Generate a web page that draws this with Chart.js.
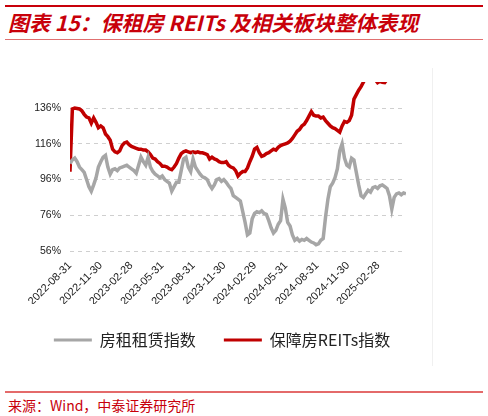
<!DOCTYPE html>
<html lang="zh">
<head>
<meta charset="UTF-8">
<title>保租房REITs及相关板块整体表现</title>
<style>
  body { margin: 0; background: #fff; width: 488px; height: 416px; position: relative; overflow: hidden; font-family: "Noto Sans CJK SC", sans-serif; }
  .top-line { position: absolute; left: 5px; width: 478px; top: 5px; height: 2px; background: #c8000a; }
  .title { position: absolute; left: 8px; top: 7px; font-size: 21px; font-weight: bold; font-style: italic; color: #c8000a; white-space: nowrap; }
  .title-line { position: absolute; left: 5px; width: 478px; top: 39px; height: 1px; background: #e07070; }
  .frame { position: absolute; left: 432px; top: 68px; width: 1px; height: 298px; background: #f0f0f0; }
  .foot-line { position: absolute; left: 5px; width: 478px; top: 391px; height: 2px; background: #e46a6a; }
  .source { position: absolute; left: 8px; top: 395px; font-size: 14px; color: #c8000a; white-space: nowrap; }
  #chart { position: absolute; left: 0; top: 0; }
</style>
</head>
<body>
<div class="top-line"></div>
<div class="title">图表 15：保租房 REITs 及相关板块整体表现</div>
<div class="title-line"></div>
<div class="frame"></div>
<canvas id="chart" width="488" height="380"></canvas>
<div class="foot-line"></div>
<div class="source">来源：Wind，中泰证券研究所</div>

<script src="https://cdn.jsdelivr.net/npm/chart.js"></script>
<script>
  // 周度数据，起点 2022-08-31
  const startDate = '2022-08-31';
  const stepDays = 7;

  // 坐标轴刻度
  const tickDates = ['2022-08-31', '2022-11-30', '2023-02-28', '2023-05-31', '2023-08-31', '2023-11-30',
    '2024-02-29', '2024-05-31', '2024-08-31', '2024-11-30', '2025-02-28'];
  const yTicks = [56, 76, 96, 116, 136];

  const seriesNames = ['房租租赁指数', '保障房REITs指数'];

  // 房租租赁指数（%）
  const rentIndex = [
    105, 107, 108, 106, 103, 101.5, 100, 96, 92, 89.5,
    93, 97, 103, 106, 108.5, 109.5, 103, 99, 101.5, 102,
    101, 102.5, 103, 103.5, 104, 103, 102, 101, 99.5, 104,
    108.5, 106, 104, 108.5, 103, 100.5, 99, 98, 97, 98,
    96, 95, 94, 89.5, 92, 94.5, 94.5, 101, 107.5, 108.5,
    103, 100.5, 107.5, 103, 101, 99, 97.5, 97, 96, 93,
    91, 93, 96, 96.5, 95, 96, 94.5, 92.5, 91, 87,
    86, 85, 84, 78, 72, 65, 66, 74, 77, 78,
    77.5, 78.5, 77, 76.5, 73, 69, 66, 67.5, 71, 73,
    85, 80, 72, 70, 65, 62, 63, 61.5, 62.5, 62,
    63, 62, 61, 60.5, 59.5, 60, 62, 63, 75, 85,
    92, 94, 97, 102, 112, 116, 108, 104, 103, 108,
    107, 100, 93, 87, 86, 88, 90, 89, 91.5, 92,
    91, 92.5, 93, 92, 91, 87, 79.5, 86, 88, 88.5,
    87.5, 88.5, 88
  ];

  // 保障房REITs指数（%）
  const reitsIndex = [
    100.4, 135.5, 136, 135.8, 135.5, 134.5, 132.5, 131, 130.5, 127.5,
    130.5, 128, 125, 126, 125, 121.5, 120, 118, 113, 111.5,
    111, 112, 115, 116.5, 117, 115.5, 114.5, 114, 113.5, 113,
    113, 112.5, 112.5, 111.5, 110, 108, 107.5, 106, 105, 103.5,
    103.5, 103, 102, 101.5, 103, 105, 108, 110.5, 111.5, 112,
    111.5, 111, 111.5, 111, 111.5, 111, 111, 110.5, 110, 107.5,
    108.5, 107.5, 107, 106, 105.5, 105.5, 106, 104, 103, 102.5,
    101, 98, 99.5, 100.5, 100.5, 102.5, 106, 109, 113, 114,
    111, 109, 109.5, 110.5, 111, 112, 113, 112.5, 114, 115,
    115.5, 116, 116.5, 117.5, 119, 121, 123, 124, 126, 127,
    129, 131.5, 134, 132, 131.5, 131.5, 130.5, 131, 129, 127.5,
    126, 125, 124.5, 123.5, 122.5, 126, 128.5, 128, 129, 132,
    141, 143.5, 146, 148, 150.5, 153, 155, 157, 156, 152,
    150.2, 151, 150.5, 150.3, 152, 156, 158, 157, 158, 159,
    158, 160, 159
  ];

  const dayMs = 24 * 3600 * 1000;
  const t0 = Date.parse(startDate);
  const dayOffset = d => Math.round((Date.parse(d) - t0) / dayMs);
  const toPoints = arr => arr.map((v, i) => ({ x: i * stepDays, y: v }));
  const tickDays = tickDates.map(dayOffset);
  const lastDay = (rentIndex.length - 1) * stepDays;

  // 图例整体右移，与原图位置一致
  const legendShift = {
    id: 'legendShift',
    afterLayout(chart) {
      chart.legend.left += 19;
      chart.legend.right += 19;
    }
  };

  const config = {
    type: 'line',
    data: {
      datasets: [{
        label: seriesNames[0],
        data: toPoints(rentIndex),
        borderColor: '#a6a6a6',
        backgroundColor: '#a6a6a6',
        borderWidth: 3.5,
        pointRadius: 0,
        tension: 0
      }, {
        label: seriesNames[1],
        data: toPoints(reitsIndex),
        borderColor: '#c00000',
        backgroundColor: '#c00000',
        borderWidth: 3.5,
        pointRadius: 0,
        tension: 0
      }]
    },
    options: {
      responsive: false,
      animation: false,
      layout: { padding: { left: 0, right: 82, top: 82, bottom: 22 } },
      plugins: {
        tooltip: { enabled: false },
        legend: {
          position: 'bottom',
          labels: {
            boxWidth: 38,
            boxHeight: 3,
            padding: 28,
            color: '#222',
            font: { family: '"Noto Sans CJK SC"', size: 16 },
            // 图例线条不加描边
            generateLabels: chart => Chart.defaults.plugins.legend.labels.generateLabels(chart)
              .map(item => Object.assign(item, { lineWidth: 0 }))
          }
        }
      },
      scales: {
        x: {
          type: 'linear',
          min: 0,
          max: lastDay,
          afterBuildTicks: axis => { axis.ticks = tickDays.map(v => ({ value: v })); },
          afterFit: axis => { axis.height = 53; },
          grid: { display: false },
          border: { display: false },
          ticks: {
            autoSkip: false,
            maxRotation: 45,
            minRotation: 45,
            padding: 0,
            color: '#222',
            font: { family: '"Liberation Sans"', size: 11 },
            callback: v => tickDates[tickDays.indexOf(v)] || ''
          }
        },
        y: {
          min: 56,
          max: 150.6,
          afterBuildTicks: axis => { axis.ticks = yTicks.map(v => ({ value: v })); },
          afterFit: axis => { axis.width = 70; },
          border: { display: false, dash: [4, 4] },
          grid: {
            color: '#cfcfcf',
            lineWidth: 1,
            drawTicks: false,
            borderDash: [4, 4]
          },
          ticks: {
            padding: 9,
            color: '#222',
            font: { family: '"Liberation Sans"', size: 10.5 },
            callback: v => v + '%'
          }
        }
      }
    },
    plugins: [legendShift]
  };

  const ctx = document.querySelector('#chart');
  const chart = new Chart(ctx, config);
</script>
</body>
</html>
